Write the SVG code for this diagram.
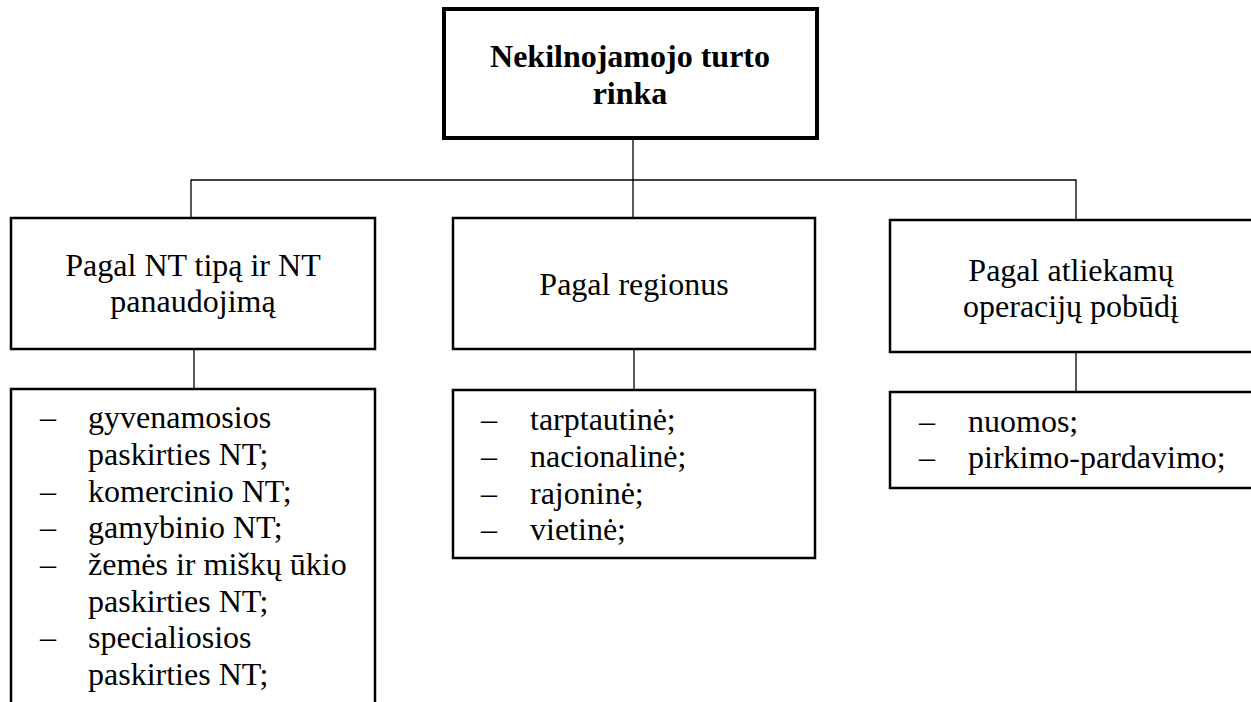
<svg xmlns="http://www.w3.org/2000/svg" width="1251" height="702" viewBox="0 0 1251 702">
  <style>
    text { font-family: "Liberation Serif", "Times New Roman", serif; font-size: 32px; fill: #000; }
    .title { font-weight: bold; text-anchor: middle; }
    .head { text-anchor: middle; }
    .box { fill: #fff; stroke: #000; stroke-width: 2.5; }
    .root { fill: #fff; stroke: #000; stroke-width: 4; }
    .wire { fill: none; stroke: #000; stroke-width: 1.3; }
  </style>

  <!-- connectors -->
  <g id="connectors">
    <path class="wire" d="M633,138 V218"/>
    <path class="wire" d="M191,218 V180 H1076 V220"/>
    <path class="wire" d="M194,349 V389"/>
    <path class="wire" d="M634,349 V390"/>
    <path class="wire" d="M1076,352 V392"/>
  </g>

  <!-- root node -->
  <g id="root">
    <rect class="root" x="444" y="9" width="373" height="129"/>
    <text class="title" x="630" y="67">Nekilnojamojo turto</text>
    <text class="title" x="630" y="104">rinka</text>
  </g>

  <!-- category: by type and use -->
  <g id="by-type">
    <rect class="box" x="11" y="218" width="364" height="131"/>
    <text class="head" x="193" y="276">Pagal NT tipą ir NT</text>
    <text class="head" x="193" y="312">panaudojimą</text>
  </g>

  <!-- category: by region -->
  <g id="by-region">
    <rect class="box" x="453" y="218" width="362" height="131"/>
    <text class="head" x="634" y="295">Pagal regionus</text>
  </g>

  <!-- category: by transaction kind -->
  <g id="by-operation">
    <rect class="box" x="890" y="220" width="372" height="132"/>
    <text class="head" x="1071" y="281">Pagal atliekamų</text>
    <text class="head" x="1071" y="317">operacijų pobūdį</text>
  </g>

  <!-- list: property types -->
  <g id="type-list">
    <rect class="box" x="11" y="389" width="364" height="340"/>
    <text x="40" y="428">–</text><text x="88" y="428">gyvenamosios</text>
    <text x="88" y="465">paskirties NT;</text>
    <text x="40" y="502">–</text><text x="88" y="502">komercinio NT;</text>
    <text x="40" y="538">–</text><text x="88" y="538">gamybinio NT;</text>
    <text x="40" y="575">–</text><text x="88" y="575">žemės ir miškų ūkio</text>
    <text x="88" y="612">paskirties NT;</text>
    <text x="40" y="648">–</text><text x="88" y="648">specialiosios</text>
    <text x="88" y="685">paskirties NT;</text>
  </g>

  <!-- list: regions -->
  <g id="region-list">
    <rect class="box" x="453" y="390" width="362" height="168"/>
    <text x="481" y="430">–</text><text x="530" y="430">tarptautinė;</text>
    <text x="481" y="467">–</text><text x="530" y="467">nacionalinė;</text>
    <text x="481" y="504">–</text><text x="530" y="504">rajoninė;</text>
    <text x="481" y="540">–</text><text x="530" y="540">vietinė;</text>
  </g>

  <!-- list: transaction kinds -->
  <g id="operation-list">
    <rect class="box" x="890" y="392" width="372" height="96"/>
    <text x="919" y="432">–</text><text x="968" y="432">nuomos;</text>
    <text x="919" y="468">–</text><text x="968" y="468">pirkimo-pardavimo;</text>
  </g>
</svg>
